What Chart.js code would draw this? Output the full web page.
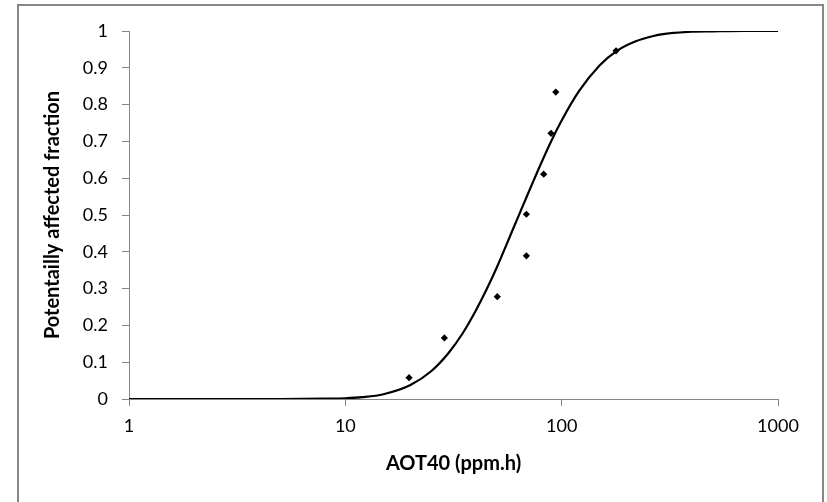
<!DOCTYPE html>
<html>
<head>
<meta charset="utf-8">
<script src="https://cdn.jsdelivr.net/npm/chart.js@4"></script>
<style>
  html, body { margin: 0; padding: 0; background: #fff; }
  #wrap { width: 827px; height: 502px; position: relative; }
</style>
</head>
<body>
<div id="wrap"><canvas id="c" width="827" height="502"></canvas></div>
<script>
// Observed points (AOT40 ppm.h, potentially affected fraction)
const obsX = [19.7, 28.7, 50.4, 68.7, 68.7, 82.6, 89.3, 93.9, 178.4];
const obsY = [0.058, 0.166, 0.278, 0.389, 0.502, 0.611, 0.722, 0.834, 0.946];

// Fitted curve
const curveX = [1, 2, 5, 8, 10, 12, 15, 20, 25, 30, 35, 40, 45, 50, 60, 70, 80, 90, 100, 120, 150, 180, 220, 260, 300, 400, 500, 700, 1000];
const curveY = [0, 0, 0, 0.001, 0.002, 0.005, 0.013, 0.038, 0.076, 0.125, 0.18, 0.239, 0.298, 0.356, 0.466, 0.559, 0.638, 0.704, 0.757, 0.836, 0.907, 0.946, 0.972, 0.985, 0.992, 0.998, 0.999, 1.0, 1.0];

// Axis ticks
const xTickValues = [1, 10, 100, 1000];
const xTickLabels = ['1', '10', '100', '1000'];
const yTickValues = [0, 0.1, 0.2, 0.3, 0.4, 0.5, 0.6, 0.7, 0.8, 0.9, 1];
const yTickLabels = ['0', '0.1', '0.2', '0.3', '0.4', '0.5', '0.6', '0.7', '0.8', '0.9', '1'];

const xTitle = 'AOT40 (ppm.h)';
const yTitle = 'Potentailly affected fraction';

const AXIS_GRAY = '#868686';
const FONT = 'Lato, "Open Sans", sans-serif';

const frame = {
  id: 'frame',
  beforeDraw(chart) {
    const ctx = chart.ctx;
    ctx.save();
    ctx.fillStyle = '#fff';
    ctx.fillRect(0, 0, chart.width, chart.height);
    ctx.strokeStyle = '#878787';
    ctx.lineWidth = 2;
    ctx.strokeRect(18, 5, 805, 600);
    ctx.restore();
  }
};

new Chart(document.getElementById('c'), {
  type: 'scatter',
  data: {
    datasets: [
      {
        label: 'Fit',
        data: curveX.map((x, i) => ({ x: x, y: curveY[i] })),
        showLine: true,
        borderColor: '#000',
        borderWidth: 2.2,
        pointRadius: 0,
        cubicInterpolationMode: 'monotone',
        order: 2
      },
      {
        label: 'Observed',
        data: obsX.map((x, i) => ({ x: x, y: obsY[i] })),
        showLine: false,
        pointStyle: 'rectRot',
        pointRadius: 3.6,
        backgroundColor: '#000',
        borderColor: '#000',
        borderWidth: 0,
        order: 1
      }
    ]
  },
  options: {
    responsive: false,
    animation: false,
    devicePixelRatio: 1,
    layout: { padding: { left: 20, top: 31, right: 49, bottom: 26 } },
    plugins: {
      legend: { display: false },
      tooltip: { enabled: false }
    },
    scales: {
      x: {
        type: 'logarithmic',
        min: 1,
        max: 1000,
        afterBuildTicks: (s) => { s.ticks = xTickValues.map(v => ({ value: v })); },
        afterFit: (s) => { s.height = 77; },
        grid: { drawOnChartArea: false, drawTicks: true, tickLength: 7, color: AXIS_GRAY, lineWidth: 1 },
        border: { display: true, color: AXIS_GRAY, width: 1 },
        ticks: {
          color: '#000',
          font: { family: FONT, size: 18 },
          padding: 9,
          maxRotation: 0,
          autoSkip: false,
          callback: (v) => { const i = xTickValues.indexOf(v); return i >= 0 ? xTickLabels[i] : ''; }
        },
        title: {
          display: true,
          text: xTitle,
          color: '#000',
          font: { family: FONT, size: 20, weight: 'bold' },
          padding: { top: 4, bottom: 0 }
        }
      },
      y: {
        type: 'linear',
        min: 0,
        max: 1,
        afterBuildTicks: (s) => { s.ticks = yTickValues.map(v => ({ value: v })); },
        afterFit: (s) => { s.width = 109; },
        grid: { drawOnChartArea: false, drawTicks: true, tickLength: 7, color: AXIS_GRAY, lineWidth: 1 },
        border: { display: true, color: AXIS_GRAY, width: 1 },
        ticks: {
          color: '#000',
          font: { family: FONT, size: 18 },
          padding: 14,
          autoSkip: false,
          callback: (v) => { const i = yTickValues.findIndex(t => Math.abs(t - v) < 1e-9); return i >= 0 ? yTickLabels[i] : ''; }
        },
        title: {
          display: true,
          text: yTitle,
          color: '#000',
          font: { family: FONT, size: 20, weight: 'bold' },
          padding: { top: 21, bottom: 0 }
        }
      }
    }
  },
  plugins: [frame]
});
</script>
</body>
</html>
